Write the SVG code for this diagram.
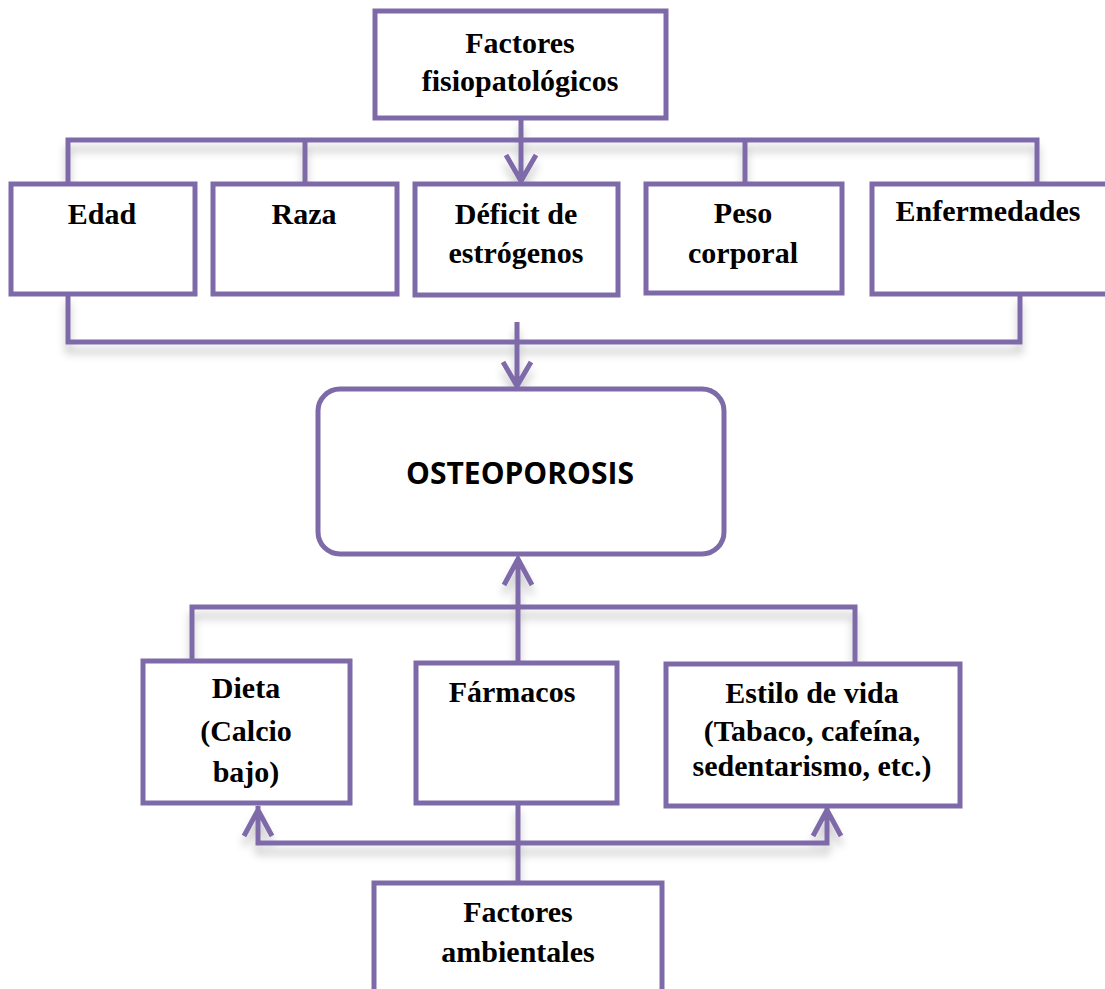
<svg xmlns="http://www.w3.org/2000/svg" width="1105" height="989" viewBox="0 0 1105 989">
<defs>
<style>
.box{fill:#fff;stroke:#7E6AA8;stroke-width:5}
.ln{fill:none;stroke:#7E6AA8;stroke-width:5;stroke-linejoin:miter}
.t{font-family:"Liberation Serif","Times New Roman",serif;font-weight:bold;font-size:30px;fill:#000;text-anchor:middle}
.s{font-family:"Open Sans","Liberation Sans",sans-serif;font-weight:bold;font-size:30px;fill:#000;text-anchor:middle}
</style>
<filter id="sh" x="-5%" y="-30%" width="110%" height="200%">
<feDropShadow dx="0" dy="9" stdDeviation="4" flood-color="#000" flood-opacity="0.22"/>
</filter>
</defs>
<rect width="1105" height="989" fill="#fff"/>
<g id="connectors" filter="url(#sh)">
<path class="ln" d="M68,183 V140 H1037 V183"/>
<path class="ln" d="M305,140 V183"/>
<path class="ln" d="M745,140 V183"/>
<path class="ln" d="M521,118 V181 M506,155 L521,181 L536,155"/>
<path class="ln" d="M68,294 V342 H1020 V294"/>
<path class="ln" d="M517,322 V386 M503,362 L517,386 L531,362"/>
<path class="ln" d="M192,660 V607 H855 V662"/>
<path class="ln" d="M518,662 V559 M504,585 L518,559 L532,585"/>
<path class="ln" d="M258,806 V843 H827 V808 M244,836 L258,810 L272,836 M813,836 L827,810 L841,836"/>
<path class="ln" d="M518,803 V882"/>
</g>
<g id="n-fisio"><rect class="box" x="375" y="11" width="291" height="107"/>
<text class="t" x="520" y="53">Factores</text><text class="t" x="520" y="91">fisiopatológicos</text></g>
<g id="n-edad"><rect class="box" x="11" y="184" width="184" height="110"/><text class="t" x="102" y="224">Edad</text></g>
<g id="n-raza"><rect class="box" x="213" y="184" width="184" height="110"/><text class="t" x="304" y="224">Raza</text></g>
<g id="n-deficit"><rect class="box" x="415" y="184" width="203" height="111"/>
<text class="t" x="516" y="224">Déficit de</text><text class="t" x="516" y="263">estrógenos</text></g>
<g id="n-peso"><rect class="box" x="646" y="184" width="196" height="109"/>
<text class="t" x="743" y="223">Peso</text><text class="t" x="743" y="263">corporal</text></g>
<g id="n-enf"><rect class="box" x="872" y="184" width="240" height="110"/><text class="t" x="988" y="221">Enfermedades</text></g>
<g id="n-osteo"><rect class="box" x="318" y="389" width="406" height="165" rx="22"/><text class="s" x="520" y="484">OSTEOPOROSIS</text></g>
<g id="n-dieta"><rect class="box" x="143" y="661" width="207" height="142"/>
<text class="t" x="246" y="698">Dieta</text><text class="t" x="246" y="741">(Calcio</text><text class="t" x="246" y="782">bajo)</text></g>
<g id="n-farm"><rect class="box" x="416" y="663" width="201" height="140"/><text class="t" x="512" y="702">Fármacos</text></g>
<g id="n-estilo"><rect class="box" x="666" y="664" width="294" height="142"/>
<text class="t" x="812" y="703">Estilo de vida</text><text class="t" x="812" y="741">(Tabaco, cafeína,</text><text class="t" x="812" y="776">sedentarismo, etc.)</text></g>
<g id="n-amb"><rect class="box" x="374" y="883" width="288" height="120"/>
<text class="t" x="518" y="922">Factores</text><text class="t" x="518" y="962">ambientales</text></g>
</svg>
